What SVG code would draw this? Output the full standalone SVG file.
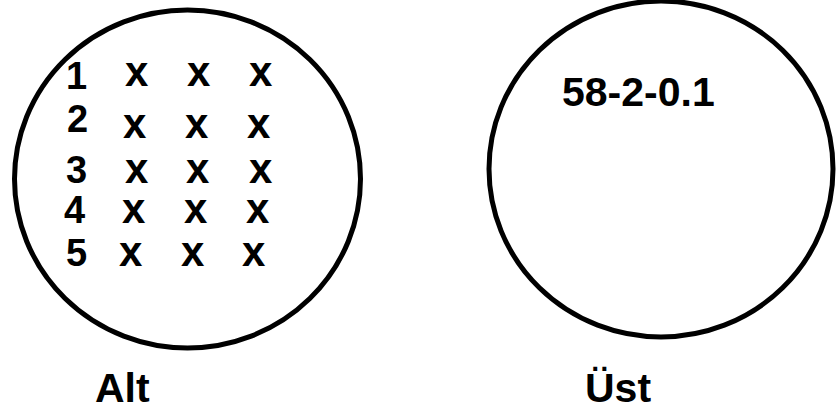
<svg xmlns="http://www.w3.org/2000/svg" width="836" height="412" viewBox="0 0 836 412">
<style>
.c{fill:none;stroke:#000;stroke-width:5}
.t{font-family:"Liberation Sans",Arial,sans-serif;font-weight:bold;fill:#000}
.d{font-size:38px}
.x{font-size:42px}
.l{font-size:41px}
</style>
<rect width="836" height="412" fill="#fff"/>
<g id="alt">
<ellipse class="c" cx="187.5" cy="179" rx="173" ry="169"/>
<g class="t d">
<text x="66" y="89">1</text>
<text x="67" y="132">2</text>
<text x="66" y="183">3</text>
<text x="64" y="223">4</text>
<text x="66" y="266">5</text>
</g>
<g class="t x">
<text x="125" y="86">x</text><text x="187" y="86">x</text><text x="249" y="86">x</text>
<text x="123" y="138">x</text><text x="185" y="138">x</text><text x="247" y="138">x</text>
<text x="125" y="183">x</text><text x="186" y="183">x</text><text x="249" y="183">x</text>
<text x="122" y="223">x</text><text x="184" y="223">x</text><text x="246" y="223">x</text>
<text x="119" y="266">x</text><text x="181" y="266">x</text><text x="242" y="266">x</text>
</g>
<text class="t l" x="95" y="402">Alt</text>
</g>
<g id="ust">
<ellipse class="c" cx="661" cy="169" rx="172" ry="168"/>
<text class="t l" x="562" y="106">58-2-0.1</text>
<text class="t l" x="585" y="402">Üst</text>
</g>
<g id="connectors"/>
</svg>
